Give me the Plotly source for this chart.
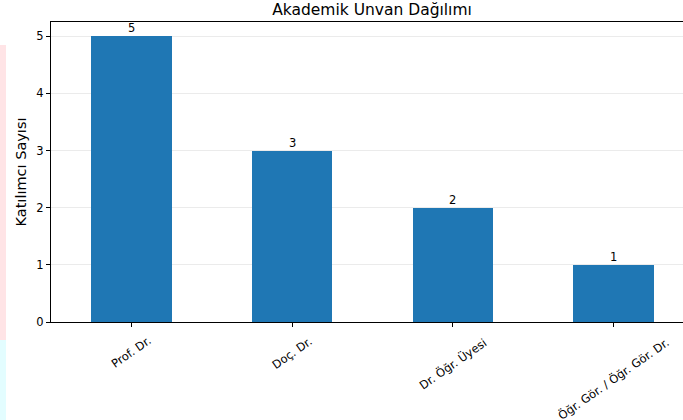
import plotly.graph_objects as go

# Datos
unvanlar = ["Prof. Dr.", "Doç. Dr.", "Dr. Öğr. Üyesi", "Öğr. Gör. / Öğr. Gör. Dr."]
katilimci = [5, 3, 2, 1]

W, H = 683, 420
L, T, B = 51, 22, 98
plot_w = W - L
plot_h = H - T - B

fig = go.Figure()

fig.add_trace(go.Bar(
    x=list(range(len(unvanlar))),
    y=katilimci,
    width=0.5,
    marker=dict(color="#1f77b4", line=dict(width=0)),
    showlegend=False,
    hoverinfo="skip",
))

# çubuk üstü değerler
for i, v in enumerate(katilimci):
    fig.add_annotation(
        x=i, y=v, xref="x", yref="y",
        text=str(v), showarrow=False,
        xanchor="center", yanchor="bottom", yshift=-1,
        font=dict(size=11.5, color="black"),
    )

# eğik kategori etiketleri (matplotlib gibi ortalanmış)
for i, u in enumerate(unvanlar):
    fig.add_annotation(
        x=i, y=-9 / plot_h, xref="x", yref="paper",
        text=u, showarrow=False, textangle=-35,
        xanchor="center", yanchor="top",
        font=dict(size=11.5, color="black"),
    )

# soldaki silik arka plan şeridi
px = lambda p: (p - L) / plot_w
py = lambda p: (322 - p) / plot_h
shapes = [
    dict(type="rect", xref="paper", yref="paper",
         x0=px(0), x1=px(6), y0=py(340), y1=py(45),
         fillcolor="rgba(255,205,210,0.55)", line=dict(width=0), layer="below"),
    dict(type="rect", xref="paper", yref="paper",
         x0=px(0), x1=px(6), y0=py(420), y1=py(340),
         fillcolor="rgba(215,252,255,0.7)", line=dict(width=0), layer="below"),
]

fig.update_layout(
    width=W, height=H,
    margin=dict(l=L, r=0, t=T, b=B),
    paper_bgcolor="white",
    plot_bgcolor="white",
    font=dict(family="DejaVu Sans", color="black"),
    title=dict(
        text="Akademik Unvan Dağılımı",
        font=dict(size=15.5, color="black"),
        xref="container", x=372 / W, xanchor="center",
        yref="container", y=1 - 10 / H, yanchor="middle",
    ),
    bargap=0,
    shapes=shapes,
    xaxis=dict(
        range=[-0.5, -0.5 + plot_w / 160.7],
        tickmode="array",
        tickvals=list(range(len(unvanlar))),
        ticktext=[""] * len(unvanlar),
        ticks="outside", ticklen=4, tickcolor="black",
        showline=True, linecolor="black", linewidth=1, mirror=True,
        showgrid=False, zeroline=False,
        automargin=False,
    ),
    yaxis=dict(
        title=dict(text="Katılımcı Sayısı", font=dict(size=14.5), standoff=6),
        range=[0, 5.25],
        tickvals=[0, 1, 2, 3, 4, 5],
        tickfont=dict(size=11.5),
        ticks="outside", ticklen=4, tickcolor="black",
        showline=True, linecolor="black", linewidth=1,
        showgrid=True, gridcolor="rgba(0,0,0,0.08)", gridwidth=1,
        zeroline=False,
        automargin=False,
    ),
)

# sayfa kenar boşluğunu kaldır
fig.write_html("out.html", config={"displayModeBar": False},
               post_script="document.body.style.margin='0px';")
